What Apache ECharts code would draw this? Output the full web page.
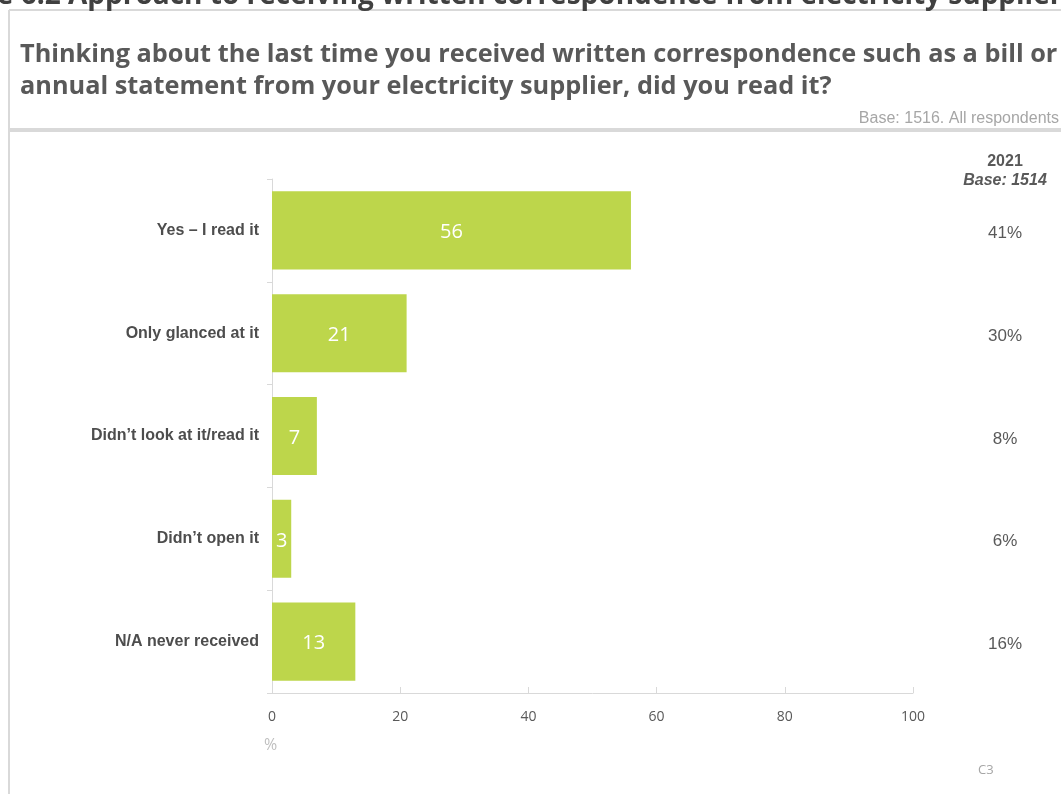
<!DOCTYPE html>
<html>
<head>
<meta charset="utf-8">
<script src="https://cdn.jsdelivr.net/npm/echarts@6/dist/echarts.min.js"></script>
<style>
  html, body { margin: 0; padding: 0; background: #ffffff; }
  #chart { width: 1061px; height: 794px; }
</style>
</head>
<body>
<div id="chart"></div>
<script>
// Survey answers (share of respondents, %)
const categories = [
  'Yes \u2013 I read it',
  'Only glanced at it',
  'Didn\u2019t look at it/read it',
  'Didn\u2019t open it',
  'N/A never received'
];
const values2023 = [56, 21, 7, 3, 13];
// Earlier wave shown in the right-hand column
const values2021 = [41, 30, 8, 6, 16];
const xTicks = { min: 0, max: 100, interval: 20 };

const figureTitle = 'Figure 6.2 Approach to receiving written correspondence from electricity suppliers';
const questionLines = [
  'Thinking about the last time you received written correspondence such as a bill or',
  'annual statement from your electricity supplier, did you read it?'
];
const baseNote = 'Base: 1516. All respondents';
const priorHeader = '2021';
const priorBase = 'Base: 1514';
const axisUnit = '%';
const slideRef = 'C3';

const chart = echarts.init(document.getElementById('chart'), null, { renderer: 'canvas' });

const option = {
  backgroundColor: '#ffffff',
  animation: false,
  grid: { left: 272, right: 148, top: 179, bottom: 101 },
  xAxis: {
    type: 'value',
    min: xTicks.min,
    max: xTicks.max,
    interval: xTicks.interval,
    axisLine: { show: true, lineStyle: { color: '#d9d9d9', width: 1 } },
    axisTick: { show: true, inside: true, length: 6, lineStyle: { color: '#d9d9d9' } },
    splitLine: { show: false },
    axisLabel: { color: '#595959', fontFamily: 'Open Sans', fontSize: 14, margin: 17 }
  },
  yAxis: [
    {
      type: 'category',
      inverse: true,
      data: categories,
      axisLine: { show: true, lineStyle: { color: '#d9d9d9', width: 1 } },
      axisTick: { show: true, length: 5, lineStyle: { color: '#d9d9d9' } },
      axisLabel: {
        color: '#4d4d4d', fontFamily: 'Liberation Sans', fontWeight: 'bold',
        fontSize: 16, margin: 13, padding: [3, 0, 0, 0]
      }
    },
    {
      type: 'category',
      inverse: true,
      position: 'right',
      data: categories,
      axisLine: { show: false },
      axisTick: { show: false },
      axisLabel: {
        align: 'center', margin: 92,
        formatter: (v, i) => '{p|' + values2021[i] + '%}',
        rich: {
          p: {
            color: '#595959', fontFamily: 'Liberation Sans', fontSize: 17,
            padding: [6, 0, 0, 0]
          }
        }
      }
    }
  ],
  series: [{
    type: 'bar',
    data: values2023,
    barCategoryGap: '24%',
    itemStyle: { color: '#bdd64b' },
    label: {
      show: true,
      position: 'inside',
      offset: [0, 2],
      color: '#ffffff',
      fontFamily: 'Open Sans',
      fontSize: 20
    }
  }],
  graphic: [
    // panel frame
    { type: 'line', shape: { x1: 9, y1: 10, x2: 9, y2: 794 }, style: { stroke: '#d9d9d9', lineWidth: 2 } },
    { type: 'line', shape: { x1: 9, y1: 10, x2: 1061, y2: 10 }, style: { stroke: '#d9d9d9', lineWidth: 2 } },
    { type: 'rect', shape: { x: 10, y: 128, width: 1051, height: 4 }, style: { fill: '#d9d9d9' } },
    // figure heading, running off the top edge
    {
      type: 'text', x: -74, y: -18,
      style: {
        text: figureTitle, fill: '#404040', fontFamily: 'Open Sans', fontWeight: 'bold',
        fontSize: 28
      }
    },
    // question
    {
      type: 'text', x: 20, y: 39,
      style: {
        text: questionLines.join('\n'), fill: '#595959', fontFamily: 'Open Sans',
        fontWeight: 'bold', fontSize: 25.3, lineHeight: 32
      }
    },
    {
      type: 'text', x: 1059, y: 111,
      style: {
        text: baseNote, fill: '#a6a6a6', fontFamily: 'Liberation Sans', fontSize: 16,
        textAlign: 'right'
      }
    },
    // right column header
    {
      type: 'text', x: 1005, y: 154,
      style: {
        text: priorHeader, fill: '#595959', fontFamily: 'Liberation Sans', fontWeight: 'bold',
        fontSize: 16, textAlign: 'center'
      }
    },
    {
      type: 'text', x: 1005, y: 173,
      style: {
        text: priorBase, fill: '#595959', fontFamily: 'Liberation Sans', fontWeight: 'bold',
        fontStyle: 'italic', fontSize: 16, textAlign: 'center'
      }
    },
    {
      type: 'text', x: 264, y: 737,
      style: { text: axisUnit, fill: '#bfbfbf', fontFamily: 'Open Sans', fontSize: 16 }
    },
    {
      type: 'text', x: 978, y: 764,
      style: { text: slideRef, fill: '#a6a6a6', fontFamily: 'Open Sans', fontSize: 13 }
    }
  ]
};

chart.setOption(option);
</script>
</body>
</html>
